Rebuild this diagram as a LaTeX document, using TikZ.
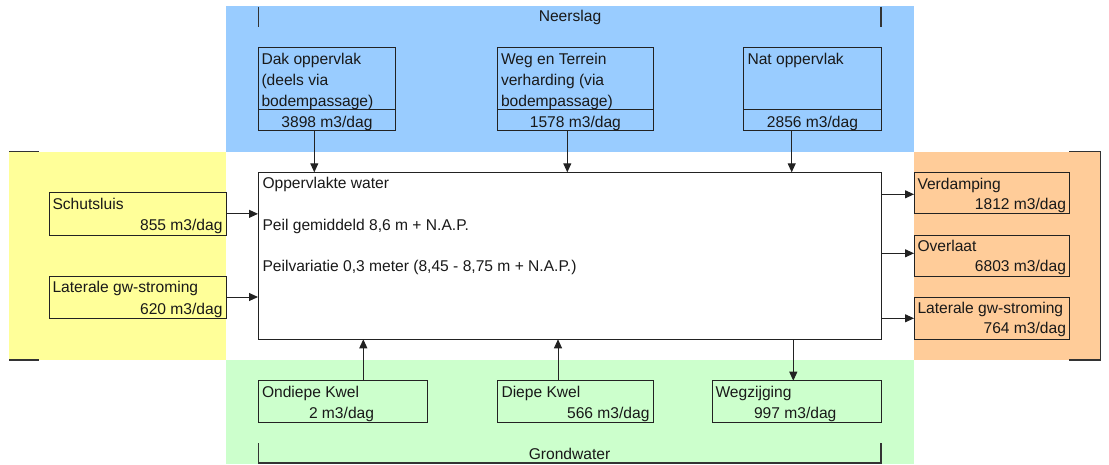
\documentclass[tikz,border=0pt]{standalone}
\usepackage{fontspec}
\setmainfont{Liberation Sans}
\usetikzlibrary{arrows.meta}
\definecolor{cblue}{HTML}{99CCFF}
\definecolor{cyellow}{HTML}{FFFF99}
\definecolor{corange}{HTML}{FFCC99}
\definecolor{cgreen}{HTML}{CCFFCC}
\definecolor{cline}{HTML}{222222}
\newcommand\diafont{\fontsize{15.6}{21}\selectfont}
\tikzset{
  box/.style={draw=cline, line width=1pt, inner sep=0pt, outer sep=0pt, anchor=north west},
  txt/.style={inner sep=0pt, outer sep=0pt, anchor=base west, font=\diafont, text=black!90},
  txtr/.style={txt, anchor=base east},
  txtc/.style={txt, anchor=base},
  arr/.style={draw=cline, line width=1pt, -{Triangle[length=9pt,width=8pt]}},
  brk/.style={draw=black!80, line width=1.2pt},
  divline/.style={draw=cline, line width=1pt}
}
\begin{document}
\begin{tikzpicture}[x=1pt,y=-1pt]
\useasboundingbox (0,0) rectangle (1109,464);
% bands
\fill[cyellow] (9,151.5) rectangle (226,360);
\fill[cblue] (226,6) rectangle (914,151.5);
\fill[corange] (914,151.5) rectangle (1100.5,360);
\fill[cgreen] (226,360) rectangle (914,464);
% brackets
\draw[brk] (258.3,6.5) -- (258.3,27);
\draw[brk] (881,6.5) -- (881,27);
\draw[brk] (258.3,443) -- (258.3,463) -- (881,463) -- (881,443);
\draw[brk] (9,151.5) -- (39,151.5);
\draw[brk] (9,360) -- (39,360);
\draw[brk] (1069,151.5) -- (1100.5,151.5) -- (1100.5,360) -- (1069,360);
\node[txtc] (neerslag) at (570,21.7) {Neerslag};
\node[txtc] (grondwater) at (569.5,459) {Grondwater};
% boxes
\node[box, minimum width=137.7pt, minimum height=83.4pt] (dak) at (258,47.3) {};
\node[box, minimum width=155.6pt, minimum height=83.4pt] (weg) at (497.7,47.3) {};
\node[box, minimum width=137.6pt, minimum height=83.4pt] (nat) at (743.7,47.3) {};
\node[box, fill=white, minimum width=623.3pt, minimum height=167pt] (main) at (258,172.3) {};
\node[box, minimum width=177.7pt, minimum height=42.3pt] (schut) at (49,192.7) {};
\node[box, minimum width=177.3pt, minimum height=42pt] (latL) at (49,276) {};
\node[box, minimum width=155.7pt, minimum height=41pt] (verd) at (914,172.3) {};
\node[box, minimum width=155.7pt, minimum height=41.7pt] (overl) at (914,235) {};
\node[box, minimum width=155.7pt, minimum height=42pt] (latR) at (914,297) {};
\node[box, minimum width=169pt, minimum height=41.6pt] (ond) at (258.3,380.7) {};
\node[box, minimum width=155.6pt, minimum height=41.6pt] (diep) at (497.7,380.7) {};
\node[box, minimum width=169pt, minimum height=41.6pt] (wegz) at (712.3,380.7) {};
% dividers in top boxes
\foreach \b in {dak,weg,nat}
  \draw[divline] ([yshift=21.4pt]\b.south west) -- ([yshift=21.4pt]\b.south east);
% texts top boxes
\node[txt] (dak1) at (261.5,64) {Dak oppervlak};
\node[txt] (dak2) at (261.5,85) {(deels via};
\node[txt] (dak3) at (261.5,106) {bodempassage)};
\node[txtc] (dakv) at (327,127.3) {3898 m3/dag};
\node[txt] (weg1) at (501,64) {Weg en Terrein};
\node[txt] (weg2) at (501,85) {verharding (via};
\node[txt] (weg3) at (501,106) {bodempassage)};
\node[txtc] (wegv) at (575.4,127.3) {1578 m3/dag};
\node[txt] (nat1) at (747.5,64) {Nat oppervlak};
\node[txtc] (natv) at (812.5,127.3) {2856 m3/dag};
% main texts
\node[txt] (m1) at (262.5,188.3) {Oppervlakte water};
\node[txt] (m2) at (262.5,230) {Peil gemiddeld 8,6 m + N.A.P.};
\node[txt] (m3) at (262.5,271.5) {Peilvariatie 0,3 meter (8,45 - 8,75 m + N.A.P.)};
% left texts
\node[txt] (schut1) at (52.5,209.2) {Schutsluis};
\node[txtr] (schutv) at (222.5,230.7) {855 m3/dag};
\node[txt] (latL1) at (52.5,292.5) {Laterale gw-stroming};
\node[txtr] (latLv) at (222.5,314) {620 m3/dag};
% right texts
\node[txt] (verd1) at (917.5,189) {Verdamping};
\node[txtr] (verdv) at (1066,209) {1812 m3/dag};
\node[txt] (overl1) at (917.5,251.5) {Overlaat};
\node[txtr] (overlv) at (1066,271.5) {6803 m3/dag};
\node[txt] (latR1) at (917.5,313.7) {Laterale gw-stroming};
\node[txtr] (latRv) at (1066,333.7) {764 m3/dag};
% bottom texts
\node[txt] (ond1) at (262,397) {Ondiepe Kwel};
\node[txt] (ondv) at (309,418) {2 m3/dag};
\node[txt] (diep1) at (501.5,397) {Diepe Kwel};
\node[txtr] (diepv) at (649.5,418) {566 m3/dag};
\node[txt] (wegz1) at (715.5,397) {Wegzijging};
\node[txt] (wegzv) at (754,418) {997 m3/dag};
% arrow columns
\coordinate (ax1) at (314.3,0);
\coordinate (ax2) at (567.3,0);
\coordinate (ax3) at (791.7,0);
\coordinate (bx1) at (363.3,0);
\coordinate (bx2) at (558,0);
\coordinate (bx3) at (793.3,0);
\coordinate (ry1) at (0,194.3);
\coordinate (ry2) at (0,253.3);
\coordinate (ry3) at (0,318.3);
% arrows
\draw[arr] (dak.south -| ax1) -- (main.north -| ax1);
\draw[arr] (weg.south -| ax2) -- (main.north -| ax2);
\draw[arr] (nat.south -| ax3) -- (main.north -| ax3);
\draw[arr] (schut.east) -- (main.west |- schut.east);
\draw[arr] (latL.east) -- (main.west |- latL.east);
\draw[arr] (main.east |- ry1) -- (verd.west |- ry1);
\draw[arr] (main.east |- ry2) -- (overl.west |- ry2);
\draw[arr] (main.east |- ry3) -- (latR.west |- ry3);
\draw[arr] (ond.north -| bx1) -- (main.south -| bx1);
\draw[arr] (diep.north -| bx2) -- (main.south -| bx2);
\draw[arr] (main.south -| bx3) -- (wegz.north -| bx3);
\end{tikzpicture}
\end{document}
